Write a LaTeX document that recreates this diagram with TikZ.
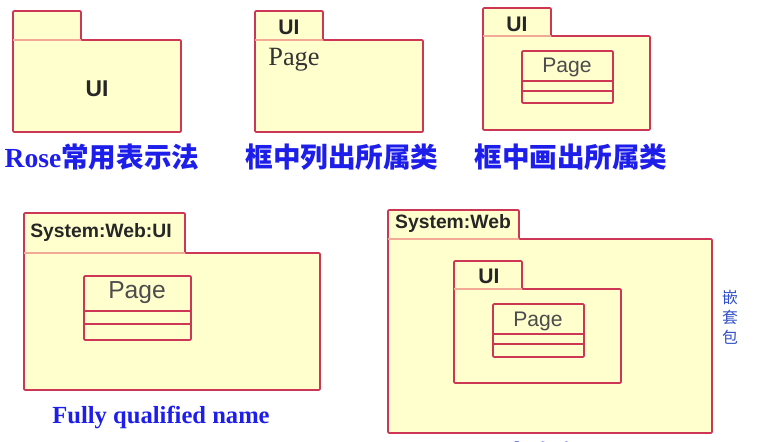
\documentclass[tikz,border=0pt]{standalone}
\usepackage{fontspec}
\usepackage{xcolor}
\setmainfont{Liberation Serif}
\setsansfont{Liberation Sans}
\newfontfamily\cjk{Noto Sans CJK SC}

\definecolor{pkgfill}{RGB}{255,255,206}
\definecolor{pkgline}{RGB}{205,55,85}
\definecolor{tabline}{RGB}{240,170,150}
\definecolor{capblue}{RGB}{30,30,235}
\definecolor{noteblue}{RGB}{50,80,200}

\begin{document}
\begin{tikzpicture}[x=0.02cm,y=-0.02cm,
        pkg/.style={fill=pkgfill,draw=pkgline,line width=0.9pt,rounded corners=0.6pt},
        sep/.style={draw=tabline,line width=0.8pt},
        cls/.style={fill=pkgfill,draw=pkgline,line width=0.9pt,rounded corners=0.6pt},
        tabtxt/.style={font=\sffamily\bfseries\fontsize{12}{14}\selectfont,text=black!85},
        sysTxt/.style={font=\sffamily\bfseries\fontsize{11}{13}\selectfont,text=black!85},
        clsTxt/.style={font=\sffamily\fontsize{12}{14}\selectfont,text=black!70},
        caption/.style={font=\cjk\bfseries\fontsize{15.7}{18}\selectfont,text=capblue,inner sep=0pt}]
        \useasboundingbox (0,0) rectangle (764,442);
        \clip (0,0) rectangle (764,442);

        % Rose
        \filldraw[pkg] (13,132)--(13,11)--(81,11)--(81,40)--(181,40)--(181,132)--cycle;
        \draw[sep] (13,40)--(81,40);
        \node[tabtxt,font=\sffamily\bfseries\fontsize{13}{15}\selectfont] (uiRose) at (97,89) {UI};
        \node[caption] (capRose) at (102,157) {{\rmfamily Rose}常用表示法};

        % list
        \filldraw[pkg] (255,132)--(255,11)--(323,11)--(323,40)--(423,40)--(423,132)--cycle;
        \draw[sep] (255,40)--(323,40);
        \node[tabtxt] (uiList) at (289,27) {UI};
        \node[font=\rmfamily\fontsize{15}{18}\selectfont,text=black!80] (pageList) at (294,60) {Page};
        \node[caption] (capList) at (342,157) {框中列出所属类};

        % drawn
        \filldraw[pkg] (483,130)--(483,8)--(551,8)--(551,36)--(650,36)--(650,130)--cycle;
        \draw[sep] (483,36)--(551,36);
        \node[tabtxt] (uiDraw) at (517,24) {UI};
        \filldraw[cls] (522,51) rectangle (613,103);
        \draw[pkgline,line width=0.9pt] (522,81)--(613,81);
        \draw[pkgline,line width=0.9pt] (522,91)--(613,91);
        \node[clsTxt] (pageDraw) at (567,67) {Page};
        \node[caption] (capDraw) at (571,157) {框中画出所属类};

        % qualified
        \filldraw[pkg] (24,390)--(24,213)--(185,213)--(185,253)--(320,253)--(320,390)--cycle;
        \draw[sep] (24,253)--(185,253);
        \node[sysTxt] (sysFull) at (101,233) {System:Web:UI};
        \filldraw[cls] (84,276) rectangle (191,340);
        \draw[pkgline,line width=0.9pt] (84,311)--(191,311);
        \draw[pkgline,line width=0.9pt] (84,324)--(191,324);
        \node[clsTxt,font=\sffamily\fontsize{14}{16}\selectfont] (pageFull) at (137,293) {Page};
        \node[caption,font=\rmfamily\bfseries\fontsize{14}{17}\selectfont] (capFull) at (161,417) {Fully qualified name};

        % nested
        \filldraw[pkg] (388,433)--(388,210)--(519,210)--(519,239)--(712,239)--(712,433)--cycle;
        \draw[sep] (388,239)--(519,239);
        \node[sysTxt] (sysWeb) at (453,224) {System:Web};
        \filldraw[pkg] (454,383)--(454,261)--(522,261)--(522,289)--(621,289)--(621,383)--cycle;
        \draw[sep] (454,289)--(522,289);
        \node[tabtxt] (uiNest) at (489,276) {UI};
        \filldraw[cls] (493,304) rectangle (584,357);
        \draw[pkgline,line width=0.9pt] (493,334)--(584,334);
        \draw[pkgline,line width=0.9pt] (493,344)--(584,344);
        \node[clsTxt] (pageNest) at (538,321) {Page};
        \node[font=\cjk\fontsize{9}{11.4}\selectfont,text=noteblue,align=center] (noteNest) at (730,317) {嵌\\套\\包};
        \node[caption] (capNest) at (545,455) {嵌套包};
    \end{tikzpicture}
\end{document}
